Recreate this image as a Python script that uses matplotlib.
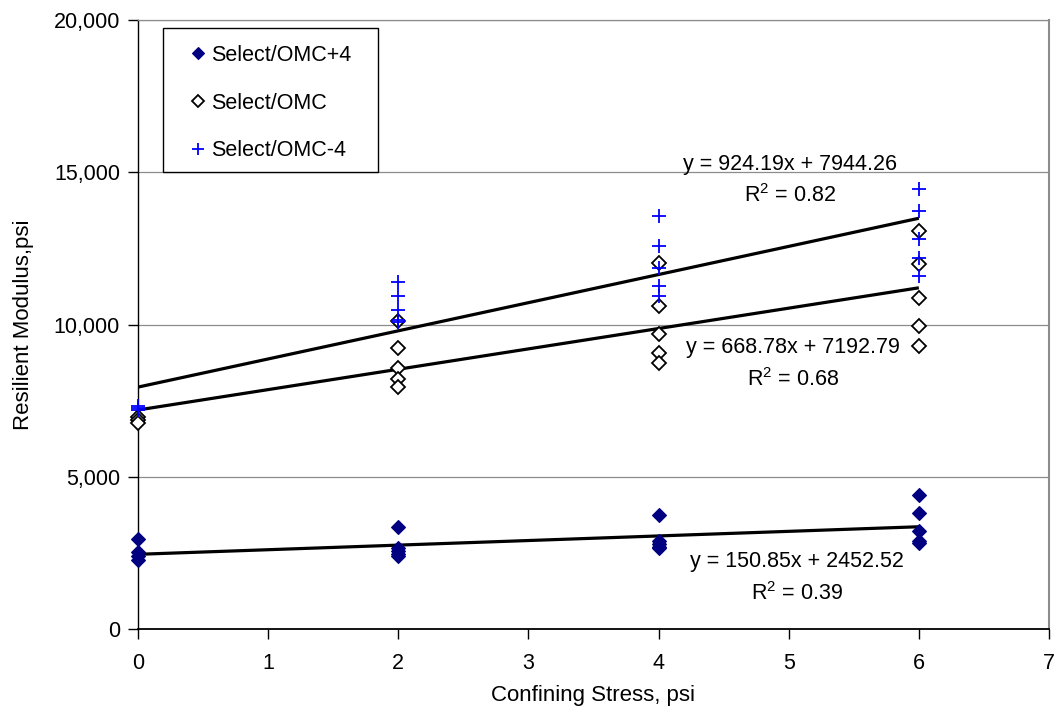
import matplotlib
matplotlib.use("Agg")
import matplotlib.pyplot as plt
from matplotlib.ticker import FuncFormatter
from matplotlib.patches import Rectangle
import numpy as np

plt.rcParams['font.family'] = ['Liberation Sans', 'DejaVu Sans']
plt.rcParams['mathtext.fontset'] = 'custom'
plt.rcParams['mathtext.rm'] = 'Liberation Sans'

# ---- data ----
series_names = ["Select/OMC+4", "Select/OMC", "Select/OMC-4"]

x_plus4 = [0, 0, 0, 0, 2, 2, 2, 2, 2, 4, 4, 4, 4, 4, 6, 6, 6, 6, 6]
y_plus4 = [2950, 2540, 2400, 2270,
           3340, 2650, 2550, 2450, 2400,
           3730, 2900, 2800, 2700, 2650,
           4400, 3820, 3230, 2900, 2820]

x_omc = [0, 0, 0, 2, 2, 2, 2, 2, 4, 4, 4, 4, 4, 6, 6, 6, 6, 6]
y_omc = [6970, 6850, 6780,
         10120, 9240, 8580, 8200, 7960,
         12030, 10610, 9680, 9070, 8730,
         13080, 11980, 10860, 9950, 9290]

x_minus4 = [0, 0, 0, 2, 2, 2, 2, 2, 4, 4, 4, 4, 4, 6, 6, 6, 6, 6]
y_minus4 = [7330, 7260, 7200,
            11400, 10940, 10480, 10150, 10080,
            13570, 12590, 11870, 11270, 10950,
            14440, 13730, 12810, 12170, 11600]

trend_slopes = [150.85, 668.78, 924.19]
trend_intercepts = [2452.52, 7192.79, 7944.26]
trend_r2 = [0.39, 0.68, 0.82]
trend_x_range = [0, 6]

x_ticks = [0, 1, 2, 3, 4, 5, 6, 7]
y_ticks = [0, 5000, 10000, 15000, 20000]

# ---- figure ----
fig = plt.figure(figsize=(10.6, 7.15), dpi=100)
ax = fig.add_axes([0.1302, 0.1203, 0.8594, 0.8517])

FS = 15.5

# gridlines
for yt in y_ticks[1:]:
    ax.axhline(yt, color='#8c8c8c', lw=0.9, zorder=0)

# trend lines
for m, b in zip(trend_slopes, trend_intercepts):
    xs = np.array(trend_x_range, dtype=float)
    ax.plot(xs, m * xs + b, color='black', lw=2.3, zorder=2,
            solid_capstyle='butt')

# series
ax.plot(x_plus4, y_plus4, linestyle='none', marker='D', ms=7.2,
        mfc='#000080', mec='#000080', mew=0.8, label=series_names[0],
        zorder=3, clip_on=False)
ax.plot(x_omc, y_omc, linestyle='none', marker='D', ms=7.2,
        mfc='white', mec='black', mew=1.3, label=series_names[1],
        zorder=3, clip_on=False)
ax.plot(x_minus4, y_minus4, linestyle='none', marker='+', ms=10,
        mec='#0000FF', mew=1.3, label=series_names[2], zorder=4,
        clip_on=False)

# trend equation labels
label_pos = [(5.06, 2200, 1180), (5.03, 9230, 8180), (5.01, 15240, 14250)]
for (m, b, r2), (lx, ly1, ly2) in zip(zip(trend_slopes, trend_intercepts, trend_r2), label_pos):
    ax.text(lx, ly1, f"y = {m:.2f}x + {b:.2f}", ha='center', va='center',
            fontsize=FS, zorder=5)
    ax.text(lx, ly2, f"R$^2$ = {r2:.2f}", ha='center', va='center',
            fontsize=FS, zorder=5)

ax.set_xlim(0, 7)
ax.set_ylim(0, 20000)
ax.set_xticks(x_ticks)
ax.set_yticks(y_ticks)
ax.yaxis.set_major_formatter(FuncFormatter(lambda v, p: f"{int(v):,}"))

ax.spines['left'].set_color('black')
ax.spines['bottom'].set_color('black')
ax.spines['left'].set_linewidth(1.0)
ax.spines['bottom'].set_linewidth(1.3)
ax.spines['top'].set_color('#8c8c8c')
ax.spines['right'].set_color('#8c8c8c')
ax.spines['top'].set_linewidth(0.9)
ax.spines['right'].set_linewidth(1.5)

ax.tick_params(axis='both', direction='out', length=7, width=1, colors='black',
               labelsize=FS)
ax.tick_params(axis='x', pad=10)
ax.tick_params(axis='y', pad=6)

ax.set_xlabel("Confining Stress, psi", fontsize=16, labelpad=8)
ax.set_ylabel("Resilient Modulus,psi", fontsize=16, labelpad=14)

# legend frame drawn separately so its size matches the reference box
frame = Rectangle((0.0274, 0.7504), 0.236, 0.2365, transform=ax.transAxes,
                  facecolor='white', edgecolor='black', lw=1.0, zorder=6)
ax.add_patch(frame)

leg = ax.legend(loc='upper left', bbox_to_anchor=(0.0387, 0.982),
                borderaxespad=0, frameon=False, fontsize=FS,
                borderpad=0.65, labelspacing=1.24, handlelength=1.0,
                handletextpad=0.1, markerscale=0.8)
leg.set_zorder(7)

fig.savefig("out.png", dpi=100, facecolor='white')
